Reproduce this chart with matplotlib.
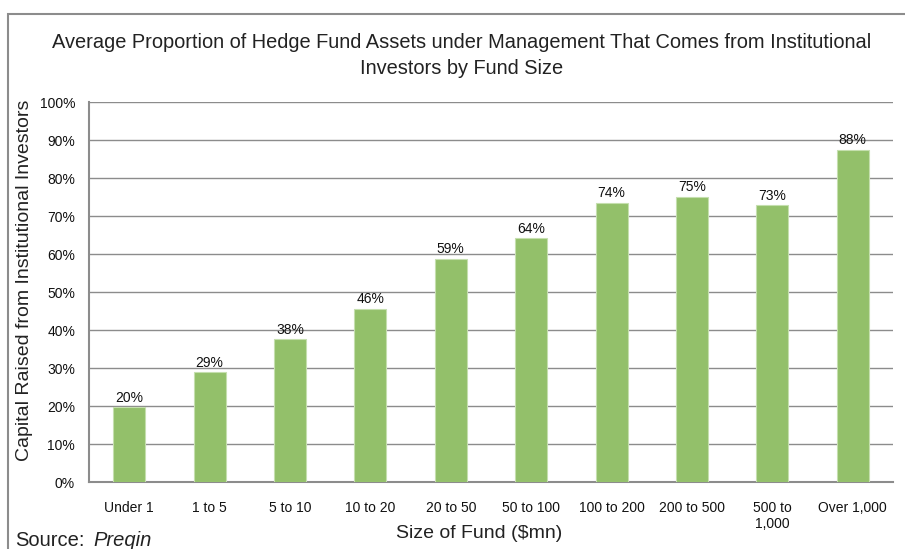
import matplotlib.pyplot as plt
from matplotlib.patches import Rectangle

plt.rcParams['font.family'] = ['Liberation Sans', 'DejaVu Sans']

# Data
fund_sizes = ['Under 1', '1 to 5', '5 to 10', '10 to 20', '20 to 50',
              '50 to 100', '100 to 200', '200 to 500', '500 to\n1,000',
              'Over 1,000']
proportions = [19.7, 29.0, 37.6, 45.6, 58.8, 64.1, 73.5, 75.1, 72.9, 87.5]
bar_labels = ['20%', '29%', '38%', '46%', '59%', '64%', '74%', '75%', '73%', '88%']
y_ticks = [0, 10, 20, 30, 40, 50, 60, 70, 80, 90, 100]

W, H = 905, 549
fig = plt.figure(figsize=(W / 100, H / 100), dpi=100)
ax = fig.add_axes([89 / W, 1 - 482 / H, (893 - 89) / W, (482 - 102) / H])

# outer frame (cropped on the right and bottom)
fig.patches.append(Rectangle((8 / W, -0.1), 1.2, 1.1 - 14 / H,
                             transform=fig.transFigure, fill=False,
                             edgecolor='#8c8c8c', linewidth=1.5))

x = range(len(fund_sizes))
bars = ax.bar(x, proportions, width=0.4, color='#93c06a',
              edgecolor='#c5dfae', linewidth=0.8, zorder=3)

for i, b in enumerate(bars):
    ax.text(b.get_x() + b.get_width() / 2, b.get_height() + 0.6, bar_labels[i],
            ha='center', va='bottom', fontsize=10, color='#111111', zorder=4)

ax.set_xlim(-0.5, len(fund_sizes) - 0.5)
ax.set_ylim(0, 100)
ax.set_yticks(y_ticks)
ax.set_yticklabels([f'{t}%' for t in y_ticks])
ax.set_xticks(list(x))
ax.set_xticklabels(fund_sizes, linespacing=1.1)
ax.tick_params(axis='both', length=0, labelsize=10, colors='#111111')
ax.tick_params(axis='x', pad=14)
ax.tick_params(axis='y', pad=10)

ax.grid(axis='y', color='#8c8c8c', linewidth=1.0, zorder=0)
for s in ['top', 'right']:
    ax.spines[s].set_visible(False)
for s in ['left', 'bottom']:
    ax.spines[s].set_color('#8c8c8c')
    ax.spines[s].set_linewidth(1.5)

ax.set_ylabel('Capital Raised from Institutional Investors', fontsize=14,
              color='#222222', va='center')
ax.yaxis.set_label_coords(-64 / 804, 0.53)
ax.set_xlabel('Size of Fund ($mn)', fontsize=14, color='#222222', va='center')
ax.xaxis.set_label_coords(0.485, -(534 - 482) / 380)

fig.text(462 / W, 1 - 42 / H,
         'Average Proportion of Hedge Fund Assets under Management That Comes from Institutional',
         ha='center', va='center', fontsize=14.4, color='#222222')
fig.text(462 / W, 1 - 68 / H, 'Investors by Fund Size',
         ha='center', va='center', fontsize=14.4, color='#222222')

fig.text(15 / W, 1 - 541 / H, 'Source:', fontsize=14.5, color='#222222',
         va='center', ha='left')
fig.text(93 / W, 1 - 541 / H, 'Preqin', fontsize=14.5, color='#222222',
         va='center', ha='left', style='italic')

fig.savefig('out.png', dpi=100)
